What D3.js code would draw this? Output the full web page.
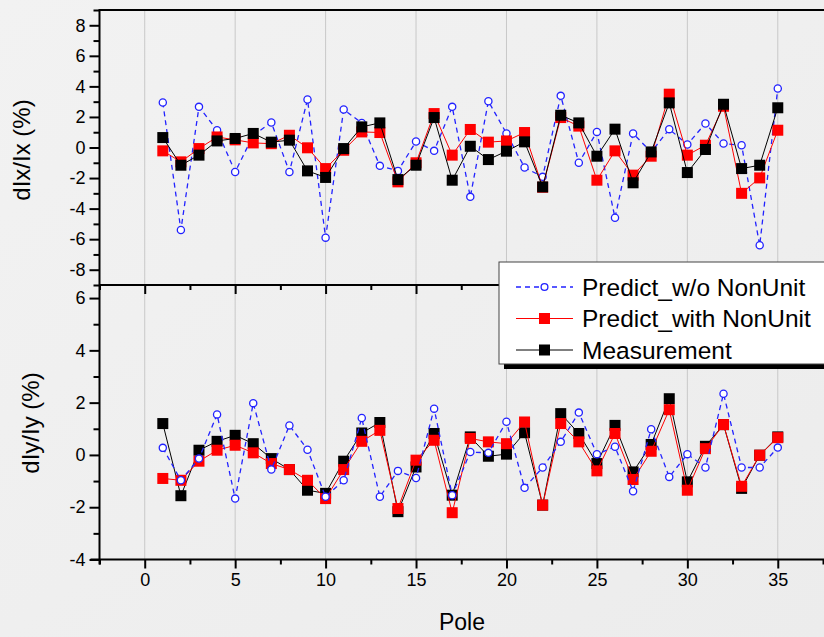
<!DOCTYPE html>
<html>
<head>
<meta charset="utf-8">
<script src="https://cdn.jsdelivr.net/npm/d3@7"></script>
<style>
  html, body { margin: 0; padding: 0; background: #efefef; }
  svg { display: block; font-family: "Liberation Sans", Arial, sans-serif; }
</style>
</head>
<body>
<svg id="chart" width="824" height="637"></svg>
<script>
// ---------- data ----------
const poles = d3.range(1, 36);

const xTicks = [0, 5, 10, 15, 20, 25, 30, 35];
const yTicksTop = [-8, -6, -4, -2, 0, 2, 4, 6, 8];
const yTicksBottom = [-4, -2, 0, 2, 4, 6];

const seriesNames = ["Predict_w/o NonUnit", "Predict_with NonUnit", "Measurement"];

// dIx/Ix (%)
const ixPredictWo = [2.95, -5.4, 2.66, 1.13, -1.6, 0.8, 1.64, -1.6, 3.14, -5.9,
  2.49, 1.6, -1.2, -1.53, 0.39, -0.22, 2.66, -3.23, 3.03, 0.92,
  -1.31, -1.92, 3.38, -1.0, 1.02, -4.6, 0.92, -0.3, 1.2, 0.2,
  1.57, 0.26, 0.15, -6.4, 3.86];
const ixPredictWith = [-0.22, -0.94, -0.07, 0.69, 0.5, 0.3, 0.25, 0.8, -0.02, -1.38,
  -0.18, 1.02, 0.98, -2.25, -1.0, 2.22, -0.5, 1.18, 0.35, 0.43,
  0.98, -2.6, 1.96, 1.4, -2.14, -0.22, -1.81, -0.57, 3.49, -0.5,
  0.15, 2.7, -3.0, -1.99, 1.13];
const ixMeasurement = [0.65, -1.16, -0.5, 0.43, 0.59, 0.92, 0.35, 0.48, -1.53, -1.96,
  -0.07, 1.35, 1.61, -2.1, -1.16, 1.96, -2.14, 0.08, -0.79, -0.24,
  0.37, -2.58, 2.11, 1.61, -0.57, 1.2, -2.31, -0.29, 2.92, -1.64,
  -0.13, 2.83, -1.38, -1.16, 2.6];

// dIy/Iy (%)
const iyPredictWo = [0.27, -0.97, -0.14, 1.55, -1.67, 1.98, -0.56, 1.13, 0.2, -1.6,
  -0.97, 1.41, -1.6, -0.61, -0.88, 1.77, -1.54, 0.11, 0.08, 1.27,
  -1.26, -0.48, 0.5, 1.62, 0.03, 0.31, -1.39, 0.98, -0.84, 0.03,
  -0.48, 2.34, -0.48, -0.48, 0.28];
const iyPredictWith = [-0.9, -0.97, -0.24, 0.18, 0.37, 0.08, -0.33, -0.56, -0.97, -1.67,
  -0.56, 0.52, 0.94, -2.05, -0.2, 0.56, -2.21, 0.63, 0.5, 0.43,
  1.26, -1.92, 1.2, 0.5, -0.61, 0.82, -0.94, 0.14, 1.73, -1.35,
  0.24, 1.16, -1.2, -0.01, 0.66];
const iyMeasurement = [1.2, -1.56, 0.18, 0.52, 0.75, 0.43, -0.14, -0.56, -1.35, -1.47,
  -0.24, 0.84, 1.24, -2.17, -0.46, 0.82, -1.54, 0.69, -0.05, 0.03,
  0.85, -1.92, 1.58, 0.82, -0.33, 1.13, -0.65, 0.4, 2.15, -1.03,
  0.33, 1.16, -1.28, -0.01, 0.69];

// ---------- layout ----------
const svg = d3.select("#chart");
const W = 824, H = 637;
const left = 99.5, right = 823;
const topY0 = 10, divY = 285, botY1 = 559.5;

const defs = svg.append("defs");
const grad = defs.append("linearGradient").attr("id", "bg").attr("x1", 0).attr("y1", 0).attr("x2", 1).attr("y2", 1);
grad.append("stop").attr("offset", "0%").attr("stop-color", "#f2f2f2");
grad.append("stop").attr("offset", "100%").attr("stop-color", "#ececec");
svg.append("rect").attr("width", W).attr("height", H).attr("fill", "url(#bg)");

const x = d3.scaleLinear().domain([-2.5, 37.5]).range([left, right]);
const yTop = d3.scaleLinear().domain([-9, 9]).range([divY, topY0]);
const yBot = d3.scaleLinear().domain([-4, 6.5]).range([botY1, divY]);

const fmt = d => String(d);

function grid(y0, y1) {
  svg.append("g").selectAll("line").data(xTicks).join("line")
    .attr("x1", d => x(d)).attr("x2", d => x(d))
    .attr("y1", y0).attr("y2", y1)
    .attr("stroke", "#c8c8c8").attr("stroke-width", 1);
}
grid(topY0, divY);
grid(divY, botY1);

function minorValues(domain, step) {
  const out = [];
  for (let v = Math.ceil(domain[0] / step) * step; v <= domain[1] + 1e-9; v += step) out.push(+v.toFixed(6));
  return out;
}

// ---------- series drawing ----------
const blue = "#2222ff", red = "#ff0000", black = "#000000";

function drawLine(vals, y, color, dashed) {
  const line = d3.line().x((d, i) => x(poles[i])).y(d => y(d));
  svg.append("path").datum(vals).attr("d", line)
    .attr("fill", "none").attr("stroke", color).attr("stroke-width", dashed ? 1.3 : 1)
    .attr("stroke-dasharray", dashed ? "5,4" : null);
}
function drawCircles(vals, y) {
  svg.append("g").selectAll("circle").data(vals).join("circle")
    .attr("cx", (d, i) => x(poles[i])).attr("cy", d => y(d)).attr("r", 3.6)
    .attr("fill", "#ffffff").attr("stroke", blue).attr("stroke-width", 1.3);
}
function drawSquares(vals, y, color) {
  const s = 11;
  svg.append("g").selectAll("rect").data(vals).join("rect")
    .attr("x", (d, i) => x(poles[i]) - s / 2).attr("y", d => y(d) - s / 2)
    .attr("width", s).attr("height", s).attr("fill", color);
}

drawLine(ixPredictWo, yTop, blue, true);
drawCircles(ixPredictWo, yTop);
drawLine(ixPredictWith, yTop, red, false);
drawSquares(ixPredictWith, yTop, red);
drawLine(ixMeasurement, yTop, black, false);
drawSquares(ixMeasurement, yTop, black);

drawLine(iyMeasurement, yBot, black, false);
drawSquares(iyMeasurement, yBot, black);
drawLine(iyPredictWith, yBot, red, false);
drawSquares(iyPredictWith, yBot, red);
drawLine(iyPredictWo, yBot, blue, true);
drawCircles(iyPredictWo, yBot);

// ---------- axes ----------
const axisColor = "#000";
function styleAxis(g) {
  g.selectAll(".domain").remove();
  g.selectAll(".tick line").attr("stroke", axisColor).attr("stroke-width", 2);
}

svg.append("line").attr("x1", left).attr("x2", right + 1).attr("y1", topY0).attr("y2", topY0)
  .attr("stroke", axisColor).attr("stroke-width", 2);
svg.append("line").attr("x1", left).attr("x2", right + 1).attr("y1", divY).attr("y2", divY)
  .attr("stroke", axisColor).attr("stroke-width", 2);
svg.append("line").attr("x1", left - 9).attr("x2", right + 1).attr("y1", botY1).attr("y2", botY1)
  .attr("stroke", axisColor).attr("stroke-width", 2);
svg.append("line").attr("x1", left).attr("x2", left).attr("y1", topY0 - 1).attr("y2", botY1 + 5)
  .attr("stroke", axisColor).attr("stroke-width", 2);

const xMinor = minorValues(x.domain(), 2.5).filter(v => !xTicks.includes(v));
[divY, botY1].forEach((yy, k) => {
  const gMaj = svg.append("g").attr("transform", `translate(0,${yy})`)
    .call(d3.axisBottom(x).tickValues(xTicks).tickSize(9).tickPadding(5)
      .tickFormat(k === 1 ? fmt : () => ""));
  styleAxis(gMaj);
  gMaj.selectAll(".tick text").attr("font-size", 18).attr("fill", "#000")
    .attr("font-family", "Liberation Sans, Arial, sans-serif");
  const gMin = svg.append("g").attr("transform", `translate(0,${yy})`)
    .call(d3.axisBottom(x).tickValues(xMinor).tickSize(5).tickFormat(() => ""));
  styleAxis(gMin);
});

function yAxis(scale, ticks, minorStep) {
  const gMaj = svg.append("g").attr("transform", `translate(${left},0)`)
    .call(d3.axisLeft(scale).tickValues(ticks).tickSize(10).tickPadding(4).tickFormat(fmt));
  styleAxis(gMaj);
  gMaj.selectAll(".tick text").attr("font-size", 18).attr("fill", "#000")
    .attr("font-family", "Liberation Sans, Arial, sans-serif");
  const minors = minorValues(scale.domain(), minorStep).filter(v => !ticks.includes(v));
  const gMin = svg.append("g").attr("transform", `translate(${left},0)`)
    .call(d3.axisLeft(scale).tickValues(minors).tickSize(6).tickFormat(() => ""));
  styleAxis(gMin);
}
yAxis(yTop, yTicksTop, 1);
yAxis(yBot, yTicksBottom, 1);

svg.append("text").attr("transform", `translate(30,150) rotate(-90)`)
  .attr("text-anchor", "middle").attr("font-size", 24).attr("fill", "#000").text("dIx/Ix (%)");
svg.append("text").attr("transform", `translate(39,423) rotate(-90)`)
  .attr("text-anchor", "middle").attr("font-size", 24).attr("fill", "#000").text("dIy/Iy (%)");
svg.append("text").attr("x", 462).attr("y", 630)
  .attr("text-anchor", "middle").attr("font-size", 23).attr("fill", "#000").text("Pole");

// ---------- legend ----------
const lg = svg.append("g");
const lx = 499, ly = 262, lw = 330, lh = 102;
lg.append("rect").attr("x", lx + 5).attr("y", ly + 5).attr("width", lw).attr("height", lh).attr("fill", "#000");
lg.append("rect").attr("x", lx).attr("y", ly).attr("width", lw).attr("height", lh)
  .attr("fill", "#fff").attr("stroke", "#444").attr("stroke-width", 1);

const rows = [287, 318.5, 350];
const sx0 = 516, sx1 = 573, smid = 544.5;
lg.append("line").attr("x1", sx0).attr("x2", sx1).attr("y1", rows[0]).attr("y2", rows[0])
  .attr("stroke", blue).attr("stroke-width", 1.3).attr("stroke-dasharray", "5,4");
lg.append("circle").attr("cx", smid).attr("cy", rows[0]).attr("r", 3.4)
  .attr("fill", "#fff").attr("stroke", blue).attr("stroke-width", 1.3);
lg.append("line").attr("x1", sx0).attr("x2", sx1).attr("y1", rows[1]).attr("y2", rows[1])
  .attr("stroke", red).attr("stroke-width", 1);
lg.append("rect").attr("x", smid - 5.5).attr("y", rows[1] - 5.5).attr("width", 11).attr("height", 11).attr("fill", red);
lg.append("line").attr("x1", sx0).attr("x2", sx1).attr("y1", rows[2]).attr("y2", rows[2])
  .attr("stroke", black).attr("stroke-width", 1);
lg.append("rect").attr("x", smid - 5.5).attr("y", rows[2] - 5.5).attr("width", 11).attr("height", 11).attr("fill", black);

lg.selectAll("text.lab").data(seriesNames).join("text").attr("class", "lab")
  .attr("x", 582).attr("y", (d, i) => rows[i]).attr("dy", "0.36em")
  .attr("font-size", 24.5).attr("fill", "#000").text(d => d);
</script>
</body>
</html>
